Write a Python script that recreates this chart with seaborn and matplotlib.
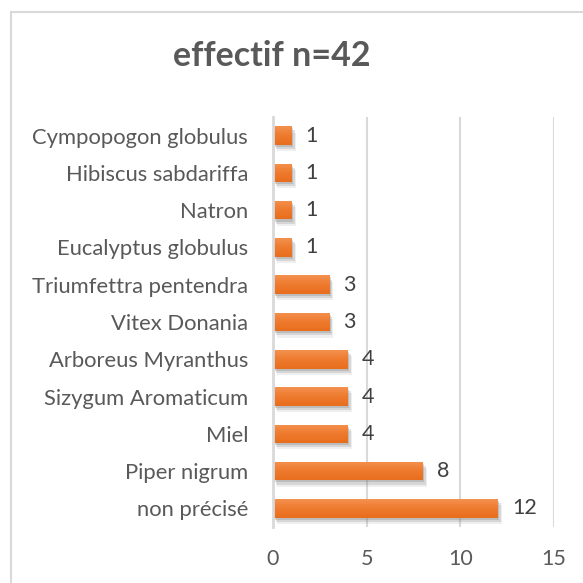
import matplotlib
matplotlib.use("Agg")
import matplotlib.pyplot as plt
import matplotlib.patheffects as pe
from matplotlib.patches import Rectangle
from matplotlib.colors import LinearSegmentedColormap
import numpy as np
import seaborn as sns
import pandas as pd

categories = ["Cympopogon globulus", "Hibiscus sabdariffa", "Natron", "Eucalyptus globulus",
              "Triumfettra pentendra", "Vitex Donania", "Arboreus Myranthus",
              "Sizygum Aromaticum", "Miel", "Piper nigrum", "non précisé"]
values = [1, 1, 1, 1, 3, 3, 4, 4, 4, 8, 12]
xticks = [0, 5, 10, 15]
title = "effectif n=42"

sns.set_theme(style="white")
plt.rcParams['font.family'] = ['Lato', 'DejaVu Sans']

df = pd.DataFrame({"cat": categories, "val": values})

fig = plt.figure(figsize=(5.83, 5.83), dpi=100)
ax = fig.add_axes([273/583, 1-527/583, (554-273)/583, (527-117)/583])

sns.barplot(data=df, y="cat", x="val", orient="h", color="#EE7A2E", width=0.5,
            saturation=1, ax=ax, order=categories)

cmap = LinearSegmentedColormap.from_list("g", ["#F4914F", "#EE7A2E", "#E86E1E"])
grad = np.linspace(0, 1, 64).reshape(-1, 1)
for p in list(ax.patches):
    p.set_edgecolor("none")
    p.set_path_effects([pe.SimplePatchShadow(offset=(1, -1.5), shadow_rgbFace="#707070", alpha=0.25),
                        pe.SimplePatchShadow(offset=(2, -3), shadow_rgbFace="#707070", alpha=0.2),
                        pe.SimplePatchShadow(offset=(3, -4.5), shadow_rgbFace="#808080", alpha=0.12),
                        pe.Normal()])
    x0, y0 = p.get_x(), p.get_y()
    w, h = p.get_width(), p.get_height()
    im = ax.imshow(grad, cmap=cmap, aspect="auto", extent=(x0, x0 + w, y0 + h, y0),
                   origin="upper", zorder=p.get_zorder() + 0.1, interpolation="bilinear")
    im.set_clip_path(p)

for i, v in enumerate(values):
    ax.text(v + 0.75, i, str(v), va="center", ha="left", fontsize=15.5, color="#404040")

ax.set_xlim(0, 15)
ax.set_ylim(len(categories) - 0.5, -0.5)
ax.set_xticks(xticks)
ax.set_xticklabels([str(t) for t in xticks])
ax.grid(axis="x", color="#D9D9D9", linewidth=1.5)
ax.set_axisbelow(True)
for s in ["top", "right", "bottom"]:
    ax.spines[s].set_visible(False)
ax.spines["left"].set_color("#D9D9D9")
ax.spines["left"].set_linewidth(2)
ax.spines["left"].set_zorder(5)
ax.tick_params(axis="y", length=0, pad=18, labelsize=15.8, labelcolor="#595959")
ax.tick_params(axis="x", length=0, pad=16, labelsize=15.5, labelcolor="#595959")
ax.set_xlabel("")
ax.set_ylabel("")

fig.text(272/583, 1-56/583, title, ha="center", va="center", fontsize=24.5,
         fontweight="bold", color="#595959")

fig.patches.append(Rectangle((11/583, -0.1), 1.2, 1 - 12/583 + 0.1, transform=fig.transFigure,
                             fill=False, edgecolor="#D9D9D9", linewidth=1.5, figure=fig))

fig.savefig("out.png", dpi=100, facecolor="white")
